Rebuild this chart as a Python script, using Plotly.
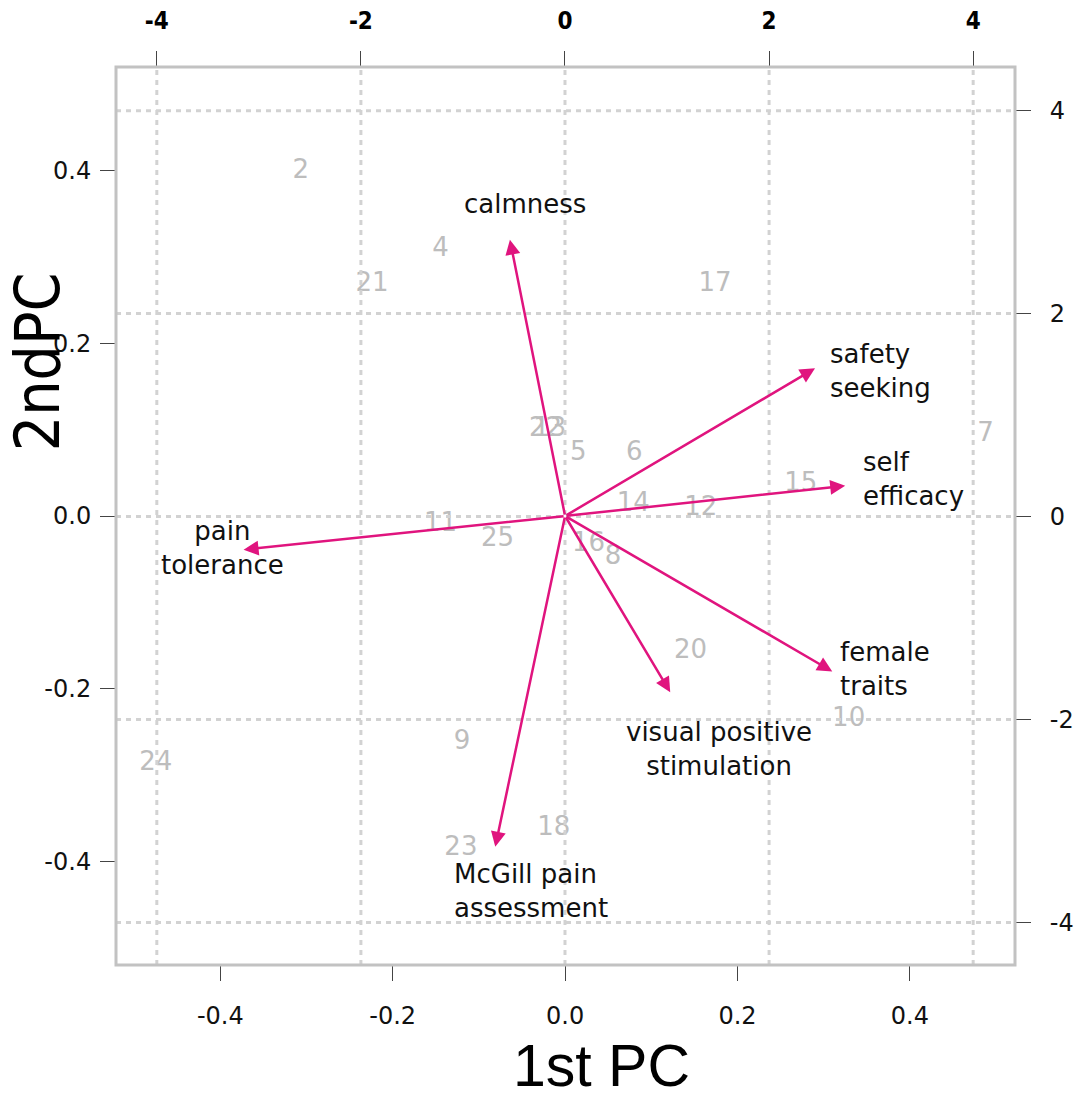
import plotly.graph_objects as go

# PCA biplot: variable loadings (arrows, bottom/left axes) and case scores (top/right axes)
variables = ["calmness", "safety<br>seeking", "self<br>efficacy", "female<br>traits",
             "visual positive<br>stimulation", "McGill pain<br>assessment", "pain<br>tolerance"]
load_pc1 = [-0.064, 0.290, 0.325, 0.310, 0.122, -0.081, -0.373]
load_pc2 = [0.320, 0.171, 0.035, -0.180, -0.204, -0.383, -0.039]

case_ids = ["2", "4", "21", "17", "22", "13", "5", "6", "7", "15", "14", "12", "11",
            "25", "16", "8", "20", "10", "9", "24", "18", "23"]
score_pc1 = [-2.59, -1.22, -1.89, 1.47, -0.19, -0.15, 0.13, 0.68, 4.12, 2.31, 0.67, 1.33,
             -1.22, -0.66, 0.23, 0.47, 1.23, 2.78, -1.01, -4.01, -0.11, -1.02]
score_pc2 = [3.40, 2.63, 2.29, 2.29, 0.86, 0.86, 0.62, 0.62, 0.81, 0.32, 0.12, 0.08,
             -0.08, -0.23, -0.28, -0.40, -1.33, -2.00, -2.23, -2.43, -3.07, -3.27]

loading_ticks = [-0.4, -0.2, 0.0, 0.2, 0.4]
score_ticks = [-4, -2, 0, 2, 4]

ARROW = "#E0147E"
GREY_TXT = "#BDBDBD"
FRAME = "#C2C2C2"
GRID = "#D2D2D2"
FONT = "DejaVu Sans"
NARROW = "DejaVu Sans Condensed"

# label placement relative to arrow tips (pixels) and alignment
label_style = {
    "calmness": dict(xshift=15, yshift=36, align="center"),
    "safety<br>seeking": dict(xshift=65, yshift=-3, align="left"),
    "self<br>efficacy": dict(xshift=68, yshift=7, align="left"),
    "female<br>traits": dict(xshift=53, yshift=2, align="left"),
    "visual positive<br>stimulation": dict(xshift=49, yshift=-57, align="center"),
    "McGill pain<br>assessment": dict(xshift=36, yshift=-44, align="left"),
    "pain<br>tolerance": dict(xshift=-21, yshift=2, align="center"),
}

fig = go.Figure()

# case scores drawn as their id numbers
fig.add_trace(go.Scatter(
    x=score_pc1, y=score_pc2, text=case_ids, mode="text",
    textfont=dict(family=FONT, size=26, color=GREY_TXT),
    xaxis="x2", yaxis="y2", hoverinfo="skip", showlegend=False,
))
# invisible anchor so the primary axes are drawn
fig.add_trace(go.Scatter(x=[0], y=[0], mode="markers", marker=dict(opacity=0),
                         showlegend=False, hoverinfo="skip"))

annotations = []
for name, lx, ly in zip(variables, load_pc1, load_pc2):
    annotations.append(dict(
        x=lx, y=ly, ax=0, ay=0, xref="x", yref="y", axref="x", ayref="y",
        showarrow=True, arrowhead=2, arrowsize=1.2, arrowwidth=2.5,
        arrowcolor=ARROW, text="",
    ))
    st = label_style[name]
    annotations.append(dict(
        x=lx, y=ly, xref="x", yref="y", text=name, showarrow=False,
        xshift=st["xshift"], yshift=st["yshift"], align=st["align"],
        font=dict(family=FONT, size=26, color="#111111"),
    ))

# axis titles
annotations.append(dict(
    text="1st PC", xref="paper", yref="paper", x=0.5395, y=-0.112,
    xanchor="center", yanchor="middle", showarrow=False,
    font=dict(family="Liberation Sans", size=59, color="#000000"),
))
annotations.append(dict(
    text="2ndPC", xref="paper", yref="paper", x=-0.087, y=0.672,
    xanchor="center", yanchor="middle", showarrow=False, textangle=-90,
    font=dict(family=NARROW, size=62, color="#000000"),
))

shapes = []
# dotted grid at the score-axis ticks
for t in score_ticks:
    shapes.append(dict(type="line", xref="x2", yref="paper", x0=t, x1=t, y0=0, y1=1,
                       line=dict(color=GRID, width=3, dash="5px,5px"), layer="above"))
    shapes.append(dict(type="line", xref="paper", yref="y2", x0=0, x1=1, y0=t, y1=t,
                       line=dict(color=GRID, width=3, dash="5px,5px"), layer="above"))
# plot frame
shapes.append(dict(type="rect", xref="paper", yref="paper", x0=0, x1=1, y0=0, y1=1,
                   line=dict(color=FRAME, width=3), layer="above"))

tick_common = dict(ticks="outside", ticklen=15, tickwidth=1, tickcolor="#444444",
                   showgrid=False, zeroline=False, showline=False, automargin=False)

fig.update_layout(
    width=1080, height=1099,
    margin=dict(l=116, r=65, t=67, b=134),
    paper_bgcolor="white", plot_bgcolor="white",
    xaxis=dict(range=[-0.521, 0.522], tickvals=loading_ticks,
               ticktext=["-0.4", "-0.2", "0.0", "0.2", "0.4"],
               tickfont=dict(family=FONT, size=24, color="#111111"),
               ticklabelstandoff=14, **tick_common),
    yaxis=dict(range=[-0.520, 0.520], tickvals=loading_ticks,
               ticktext=["-0.4", "-0.2", "0.0", "0.2", "0.4"],
               tickfont=dict(family=FONT, size=24, color="#111111"),
               ticklabelstandoff=4, **tick_common),
    xaxis2=dict(range=[-4.40, 4.41], tickvals=score_ticks, overlaying="x", side="top",
                ticktext=[str(t) for t in score_ticks],
                tickfont=dict(family=NARROW, size=24, color="#000000", weight="bold"),
                ticklabelstandoff=12, **tick_common),
    yaxis2=dict(range=[-4.42, 4.43], tickvals=score_ticks, overlaying="y", side="right",
                ticktext=[str(t) for t in score_ticks],
                tickfont=dict(family=FONT, size=24, color="#111111"),
                ticklabelstandoff=14, **tick_common),
    annotations=annotations,
    shapes=shapes,
)

fig.write_html("out.html")
